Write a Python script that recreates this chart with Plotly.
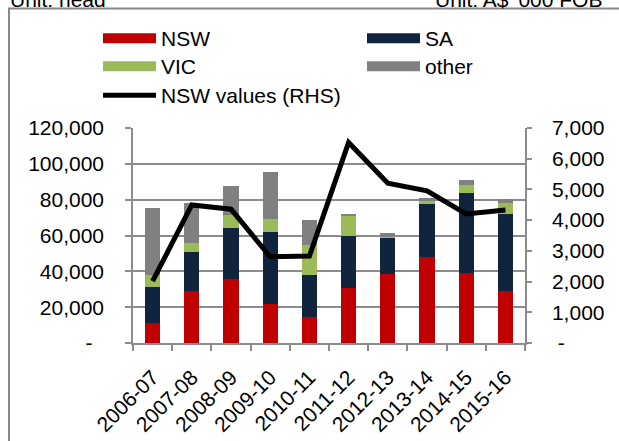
import plotly.graph_objects as go

years = ["2006-07", "2007-08", "2008-09", "2009-10", "2010-11",
         "2011-12", "2012-13", "2013-14", "2014-15", "2015-16"]
nsw = [11000, 29300, 36000, 22000, 14500, 30500, 38300, 48000, 39000, 29300]
sa = [20350, 21600, 28300, 39800, 23500, 29400, 20500, 29800, 44600, 42900]
vic = [6500, 4700, 7100, 7600, 16500, 11200, 500, 1500, 4700, 5800]
other = [37700, 22700, 16200, 26000, 14000, 800, 1900, 1900, 2600, 2400]
nsw_values = [2015, 4495, 4355, 2808, 2830, 6530, 5204, 4953, 4202, 4332]

left_ticks = [0, 20000, 40000, 60000, 80000, 100000, 120000]
left_text = ["-\u00a0\u00a0", "20,000", "40,000", "60,000", "80,000", "100,000", "120,000"]
right_ticks = [0, 1000, 2000, 3000, 4000, 5000, 6000, 7000]
right_text = ["\u00a0-", "1,000", "2,000", "3,000", "4,000", "5,000", "6,000", "7,000"]

colors = {"NSW": "#C00000", "SA": "#10243E", "VIC": "#9BBB59", "other": "#808080"}
FONT = "Arial, Liberation Sans, sans-serif"
FS = 21
GRID = "#8c8c8c"

W, H = 619, 441
ML, MR, MT, MB = 133, 94, 128, 98
PW, PH = W - ML - MR, H - MT - MB


def px_x(p):
    return (p - ML) / PW


def px_y(p):
    return (H - MB - p) / PH


fig = go.Figure()
for name, vals in [("NSW", nsw), ("SA", sa), ("VIC", vic), ("other", other)]:
    fig.add_trace(go.Bar(x=years, y=vals, name=name, marker_color=colors[name],
                         marker_line_width=0, showlegend=False))

fig.add_trace(go.Scatter(x=years, y=nsw_values, name="NSW values (RHS)", mode="lines",
                         line=dict(color="black", width=5), yaxis="y2", showlegend=False))

tf = dict(size=FS, family=FONT, color="black")

# legend entries: (name, colour, line width, legend id, left px, top px)
leg_items = [("NSW", colors["NSW"], 12, "legend", 98, 18),
             ("SA", colors["SA"], 12, "legend2", 362, 18),
             ("VIC", colors["VIC"], 12, "legend3", 98, 46),
             ("other", colors["other"], 12, "legend4", 362, 46),
             ("NSW values (RHS)", "black", 5, "legend5", 98, 75)]
legends = {}
for name, col, lw, lg, lx, ly in leg_items:
    fig.add_trace(go.Scatter(x=[None], y=[None], name=name, mode="lines",
                             line=dict(color=col, width=lw), legend=lg, showlegend=True))
    legends[lg] = dict(x=px_x(lx), y=px_y(ly), xanchor="left", yanchor="top",
                       orientation="v", itemwidth=53, bgcolor="rgba(0,0,0,0)",
                       font=tf)

fig.update_layout(
    width=W, height=H,
    margin=dict(l=ML, r=MR, t=MT, b=MB, pad=0, autoexpand=False),
    paper_bgcolor="white", plot_bgcolor="white",
    barmode="stack", bargap=0.617,
    font=dict(family=FONT, size=FS, color="black"),
    xaxis=dict(type="category", tickangle=-45, tickson="boundaries", ticks="outside",
               ticklen=6, tickcolor=GRID, tickwidth=1.5, showline=True, linecolor=GRID,
               linewidth=1.5, showgrid=False, ticklabelstandoff=12, automargin=False,
               tickfont=tf),
    yaxis=dict(range=[0, 120000], tickvals=left_ticks, ticktext=left_text,
               ticks="outside", ticklen=6, tickcolor=GRID, tickwidth=1.5,
               showline=True, linecolor=GRID, linewidth=1.5, automargin=False,
               showgrid=True, gridcolor=GRID, gridwidth=1.5, zeroline=False,
               ticklabelstandoff=17, tickfont=tf),
    yaxis2=dict(range=[0, 7000], tickvals=right_ticks, ticktext=right_text,
                overlaying="y", side="right", ticks="outside", ticklen=5,
                tickcolor=GRID, tickwidth=1.5, showline=True, linecolor=GRID,
                linewidth=1.5, showgrid=False, zeroline=False, ticklabelstandoff=16,
                automargin=False, tickfont=tf),
    shapes=[dict(type="rect", xref="paper", yref="paper",
                 x0=px_x(9), x1=px_x(640), y0=px_y(460), y1=px_y(8.5),
                 line=dict(color="#888888", width=2), fillcolor="rgba(0,0,0,0)",
                 layer="below")],
    annotations=[
        dict(text="Unit: head", xref="paper", yref="paper", x=px_x(8), y=px_y(13.5),
             xanchor="left", yanchor="bottom", showarrow=False, font=tf),
        dict(text="Unit: A$ '000 FOB", xref="paper", yref="paper", x=px_x(433), y=px_y(13.5),
             xanchor="left", yanchor="bottom", showarrow=False, font=tf),
    ],
    **legends,
)

fig.write_html("out.html", config={"displayModeBar": False},
               post_script="document.body.style.margin='0';")
